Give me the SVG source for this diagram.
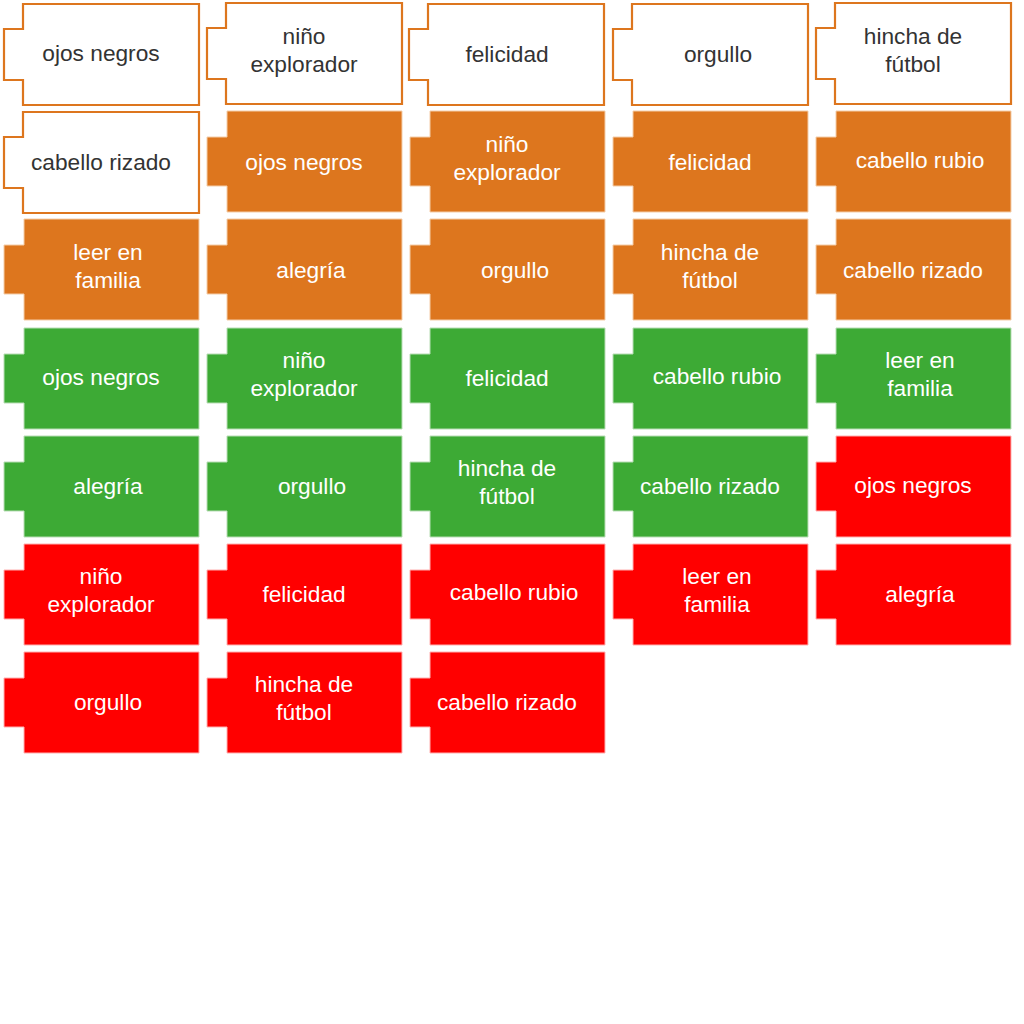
<svg xmlns="http://www.w3.org/2000/svg" xmlns:xlink="http://www.w3.org/1999/xlink" width="1024" height="1024" viewBox="0 0 1024 1024">
<style>
text{font-family:"Liberation Sans",Arial,sans-serif;font-size:22.7px;text-anchor:middle}
.w path,.w use{fill:#fff;stroke:#DD761E;stroke-width:2.2}
.w text{fill:#333}
.o use{fill:#DD761E;stroke:#F4CDA8;stroke-width:1}
.g use{fill:#3DAA35;stroke:#B8DDB5;stroke-width:1}
.r use{fill:#FF0000;stroke:#FFB0B0;stroke-width:1}
.o text,.g text,.r text{fill:#fff}
</style>
<defs>
<path id="wp" d="M19,0 H195 V101 H19 V76 H0 V25 H19 Z"/>
<path id="fp" d="M20,0 H195 V101 H20 V75 H0 V26 H20 Z"/>
</defs>
<rect width="1024" height="1024" fill="#fff"/>
<g id="connectors"/>
<!-- Row 1 white -->
<g id="w1" class="w"><use xlink:href="#wp" x="4" y="4"/><text x="101" y="61">ojos negros</text></g>
<g id="w2" class="w"><use xlink:href="#wp" x="207" y="3"/><text x="304" y="44">niño</text><text x="304" y="72">explorador</text></g>
<g id="w3" class="w"><use xlink:href="#wp" x="409" y="4"/><text x="507" y="62">felicidad</text></g>
<g id="w4" class="w"><use xlink:href="#wp" x="613" y="4"/><text x="718" y="62">orgullo</text></g>
<g id="w5" class="w"><use xlink:href="#wp" x="816" y="3"/><text x="913" y="44">hincha de</text><text x="913" y="72">fútbol</text></g>
<!-- Row 2 -->
<g id="w6" class="w"><use xlink:href="#wp" x="4" y="112"/><text x="101" y="170">cabello rizado</text></g>
<g id="o1" class="o"><use xlink:href="#fp" x="207" y="111"/><text x="304" y="170">ojos negros</text></g>
<g id="o2" class="o"><use xlink:href="#fp" x="410" y="111"/><text x="507" y="152">niño</text><text x="507" y="180">explorador</text></g>
<g id="o3" class="o"><use xlink:href="#fp" x="613" y="111"/><text x="710" y="170">felicidad</text></g>
<g id="o4" class="o"><use xlink:href="#fp" x="816" y="111"/><text x="920" y="168">cabello rubio</text></g>
<!-- Row 3 -->
<g id="o5" class="o"><use xlink:href="#fp" x="4" y="219"/><text x="108" y="260">leer en</text><text x="108" y="288">familia</text></g>
<g id="o6" class="o"><use xlink:href="#fp" x="207" y="219"/><text x="311" y="278">alegría</text></g>
<g id="o7" class="o"><use xlink:href="#fp" x="410" y="219"/><text x="515" y="278">orgullo</text></g>
<g id="o8" class="o"><use xlink:href="#fp" x="613" y="219"/><text x="710" y="260">hincha de</text><text x="710" y="288">fútbol</text></g>
<g id="o9" class="o"><use xlink:href="#fp" x="816" y="219"/><text x="913" y="278">cabello rizado</text></g>
<!-- Row 4 -->
<g id="g1" class="g"><use xlink:href="#fp" x="4" y="328"/><text x="101" y="385">ojos negros</text></g>
<g id="g2" class="g"><use xlink:href="#fp" x="207" y="328"/><text x="304" y="368">niño</text><text x="304" y="396">explorador</text></g>
<g id="g3" class="g"><use xlink:href="#fp" x="410" y="328"/><text x="507" y="386">felicidad</text></g>
<g id="g4" class="g"><use xlink:href="#fp" x="613" y="328"/><text x="717" y="384">cabello rubio</text></g>
<g id="g5" class="g"><use xlink:href="#fp" x="816" y="328"/><text x="920" y="368">leer en</text><text x="920" y="396">familia</text></g>
<!-- Row 5 -->
<g id="g6" class="g"><use xlink:href="#fp" x="4" y="436"/><text x="108" y="494">alegría</text></g>
<g id="g7" class="g"><use xlink:href="#fp" x="207" y="436"/><text x="312" y="494">orgullo</text></g>
<g id="g8" class="g"><use xlink:href="#fp" x="410" y="436"/><text x="507" y="476">hincha de</text><text x="507" y="504">fútbol</text></g>
<g id="g9" class="g"><use xlink:href="#fp" x="613" y="436"/><text x="710" y="494">cabello rizado</text></g>
<g id="r1" class="r"><use xlink:href="#fp" x="816" y="436"/><text x="913" y="493">ojos negros</text></g>
<!-- Row 6 -->
<g id="r2" class="r"><use xlink:href="#fp" x="4" y="544"/><text x="101" y="584">niño</text><text x="101" y="612">explorador</text></g>
<g id="r3" class="r"><use xlink:href="#fp" x="207" y="544"/><text x="304" y="602">felicidad</text></g>
<g id="r4" class="r"><use xlink:href="#fp" x="410" y="544"/><text x="514" y="600">cabello rubio</text></g>
<g id="r5" class="r"><use xlink:href="#fp" x="613" y="544"/><text x="717" y="584">leer en</text><text x="717" y="612">familia</text></g>
<g id="r6" class="r"><use xlink:href="#fp" x="816" y="544"/><text x="920" y="602">alegría</text></g>
<!-- Row 7 -->
<g id="r7" class="r"><use xlink:href="#fp" x="4" y="652"/><text x="108" y="710">orgullo</text></g>
<g id="r8" class="r"><use xlink:href="#fp" x="207" y="652"/><text x="304" y="692">hincha de</text><text x="304" y="720">fútbol</text></g>
<g id="r9" class="r"><use xlink:href="#fp" x="410" y="652"/><text x="507" y="710">cabello rizado</text></g>
</svg>
